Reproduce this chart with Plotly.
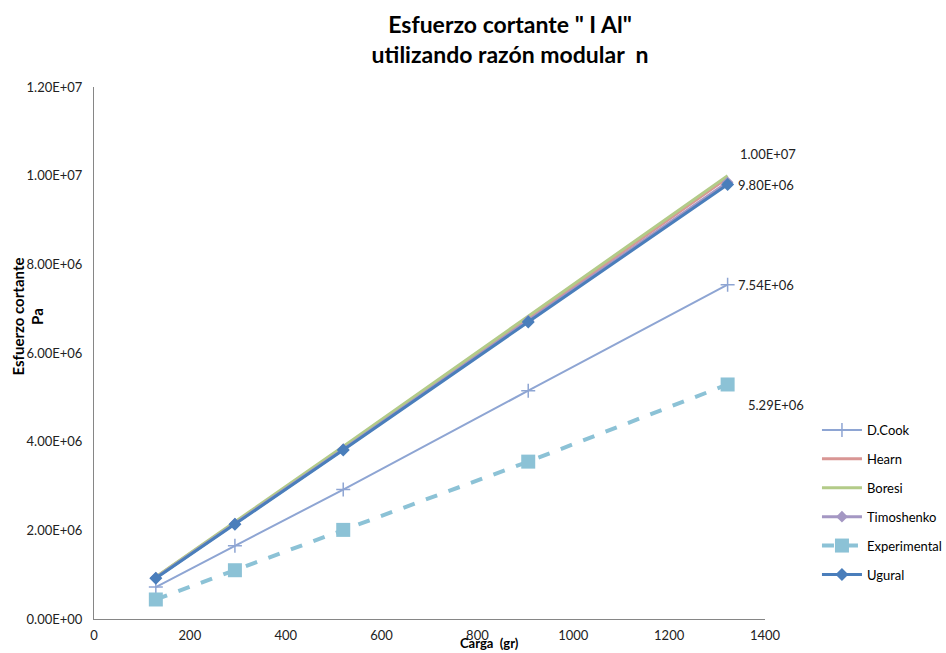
import plotly.graph_objects as go

carga = [129, 294, 520, 906, 1322]
dcook = [0.72e6, 1.65e6, 2.92e6, 5.15e6, 7.54e6]
hearn = [0.94e6, 2.17e6, 3.86e6, 6.78e6, 9.95e6]
boresi = [0.95e6, 2.19e6, 3.89e6, 6.83e6, 10.0e6]
timoshenko = [0.93e6, 2.15e6, 3.83e6, 6.73e6, 9.85e6]
experimental = [0.44e6, 1.10e6, 2.01e6, 3.55e6, 5.29e6]
ugural = [0.92e6, 2.14e6, 3.81e6, 6.70e6, 9.80e6]

y_ticks = [0, 2e6, 4e6, 6e6, 8e6, 10e6, 12e6]
y_ticktext = ["0.00E+00", "2.00E+06", "4.00E+06", "6.00E+06", "8.00E+06", "1.00E+07", "1.20E+07"]
x_ticks = [0, 200, 400, 600, 800, 1000, 1200, 1400]

FONT = "Lato"
fig = go.Figure()

series = [
    ("D.Cook", dcook, dict(color="#8EA5D3", width=2), dict(symbol="cross-thin-open", size=10, color="#8EA5D3", line=dict(width=1.5, color="#8EA5D3"))),
    ("Hearn", hearn, dict(color="#D99694", width=3), None),
    ("Boresi", boresi, dict(color="#B3CB88", width=3), None),
    ("Timoshenko", timoshenko, dict(color="#A497C3", width=3), dict(symbol="diamond", size=9, color="#A497C3")),
    ("Experimental", experimental, dict(color="#8CC2D6", width=4, dash="dash"), dict(symbol="square", size=14, color="#8CC2D6")),
    ("Ugural", ugural, dict(color="#4A7EBB", width=3), dict(symbol="diamond", size=10, color="#4A7EBB")),
]
for name, ys, line, marker in series:
    mode = "lines+markers" if marker else "lines"
    fig.add_trace(go.Scatter(x=carga, y=ys, name=name, mode=mode, line=line,
                             marker=marker, legendgroup=name))

labels = [
    (boresi[-1], "1.00E+07", 10, 22),
    (ugural[-1], "9.80E+06", 8, 0),
    (dcook[-1], "7.54E+06", 8, 0),
    (experimental[-1], "5.29E+06", 18, -21),
]
for yv, txt, xs, ys_ in labels:
    fig.add_annotation(x=carga[-1], y=yv, text=txt, showarrow=False, xanchor="left",
                       yanchor="middle", xshift=xs, yshift=ys_,
                       font=dict(family=FONT, size=13, color="#222"))

fig.add_annotation(xref="paper", yref="paper", x=(27 - 93.5) / 671.5, y=(619 - 317) / 532,
                   xanchor="center", yanchor="middle",
                   text="<b>Esfuerzo cortante<br>Pa</b>", textangle=-90, showarrow=False,
                   font=dict(family=FONT, size=15, color="#000"))
fig.add_annotation(xref="paper", yref="paper", x=(489 - 93.5) / 671.5, y=-(643 - 619) / 532,
                   xanchor="center", text="<b>Carga  (gr)</b>", showarrow=False, yanchor="middle",
                   font=dict(family=FONT, size=13, color="#000"))

fig.update_layout(
    width=946, height=653,
    margin=dict(l=93.5, r=181, t=87, b=34, autoexpand=False),
    paper_bgcolor="white", plot_bgcolor="white",
    title=dict(text="<b>Esfuerzo cortante \" I Al\"<br>utilizando razón modular  n</b>",
               x=510 / 946, xanchor="center", y=1 - 33 / 653, yanchor="top",
               font=dict(family=FONT, size=23, color="#000")),
    font=dict(family=FONT, size=13, color="#222"),
    showlegend=True,
    legend=dict(x=1 + 52 / 671.5, xanchor="left", xref="paper", y=(619 - 415) / 532, yanchor="top",
                tracegroupgap=9, font=dict(family=FONT, size=13, color="#000"),
                bgcolor="rgba(0,0,0,0)", itemwidth=40),
    xaxis=dict(range=[0, 1400], tickvals=x_ticks, showgrid=False, zeroline=False,
               showline=True, linecolor="#868686", linewidth=1, ticks="",
               ticklabelstandoff=4,
               tickfont=dict(family=FONT, size=13, color="#222")),
    yaxis=dict(range=[0, 1.2e7], tickvals=y_ticks, ticktext=y_ticktext, showgrid=False,
               zeroline=False, showline=True, linecolor="#868686", linewidth=1, ticks="",
               ticklabelstandoff=8,
               tickfont=dict(family=FONT, size=13, color="#222")),
)

fig.write_html("out.html")
